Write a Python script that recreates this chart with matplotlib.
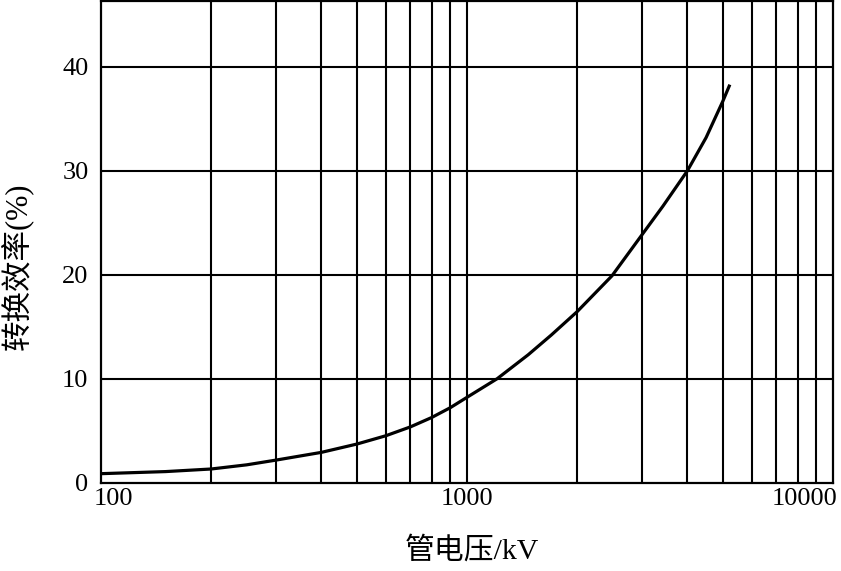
import matplotlib
matplotlib.use("Agg")
import matplotlib.pyplot as plt
import matplotlib.transforms as mtransforms
from matplotlib.ticker import FixedLocator, NullFormatter

plt.rcParams['font.family'] = ['Liberation Serif', 'Noto Sans CJK SC', 'DejaVu Sans']

# Data
voltage_kv = [100, 150, 200, 250, 300, 400, 500, 600, 700, 800, 900, 1000,
              1210, 1470, 1700, 2000, 2490, 3000, 3430, 4000, 4500, 5000, 5225]
efficiency_pct = [0.85, 1.05, 1.3, 1.7, 2.15, 2.9, 3.7, 4.5, 5.35, 6.25, 7.2, 8.2,
                  10.0, 12.3, 14.2, 16.45, 19.9, 23.8, 26.6, 30.0, 33.2, 36.7, 38.3]

x_major_ticks = [100, 1000, 10000]
x_tick_labels = ['100', '1000', '10000']
x_grid_lines = [200, 300, 400, 500, 600, 700, 800, 900, 1000,
                2000, 3000, 4000, 5000, 6000, 7000, 8000, 9000]
y_ticks = [0, 10, 20, 30, 40]
y_tick_labels = ['0', '10', '20', '30', '40']
x_label = '管电压/kV'
y_label = '转换效率(%)'

W, H = 841, 571
fig = plt.figure(figsize=(W / 100, H / 100), dpi=100)
ax = fig.add_axes([101 / W, 1 - 482.5 / H, (833 - 101) / W, (482.5 - 1) / H])

lw_grid = 1.5
for xv in x_grid_lines:
    ax.axvline(xv, color='black', lw=lw_grid, zorder=1)
for yv in y_ticks[1:]:
    ax.axhline(yv, color='black', lw=lw_grid, zorder=1)

ax.plot(voltage_kv, efficiency_pct, color='black', lw=2.3, zorder=3,
        solid_capstyle='butt', solid_joinstyle='round')

ax.set_xscale('log')
ax.set_xlim(100, 10000)
ax.set_ylim(0, 46.35)

ax.xaxis.set_major_locator(FixedLocator(x_major_ticks))
ax.xaxis.set_minor_locator(FixedLocator([]))
ax.xaxis.set_minor_formatter(NullFormatter())
ax.set_xticks(x_major_ticks)
ax.set_xticklabels(x_tick_labels)
ax.set_yticks(y_ticks)
ax.set_yticklabels(y_tick_labels)

ax.tick_params(axis='both', which='both', length=0, labelsize=19)
ax.tick_params(axis='y', pad=9)
ax.tick_params(axis='x', pad=4)

for s in ax.spines.values():
    s.set_linewidth(1.6)
    s.set_color('black')

labels = ax.get_xticklabels()
labels[0].set_transform(labels[0].get_transform() +
                        mtransforms.ScaledTranslation(12 / 100, 0, fig.dpi_scale_trans))
labels[-1].set_horizontalalignment('right')
labels[-1].set_transform(labels[-1].get_transform() +
                         mtransforms.ScaledTranslation(4 / 100, 0, fig.dpi_scale_trans))

fig.text(472 / W, 1 - 551 / H, x_label, ha='center', va='center', fontsize=21.5)
fig.text(18 / W, 1 - 266 / H, y_label, ha='center', va='center', fontsize=22,
         rotation=90)

fig.savefig('out.png', dpi=100)
